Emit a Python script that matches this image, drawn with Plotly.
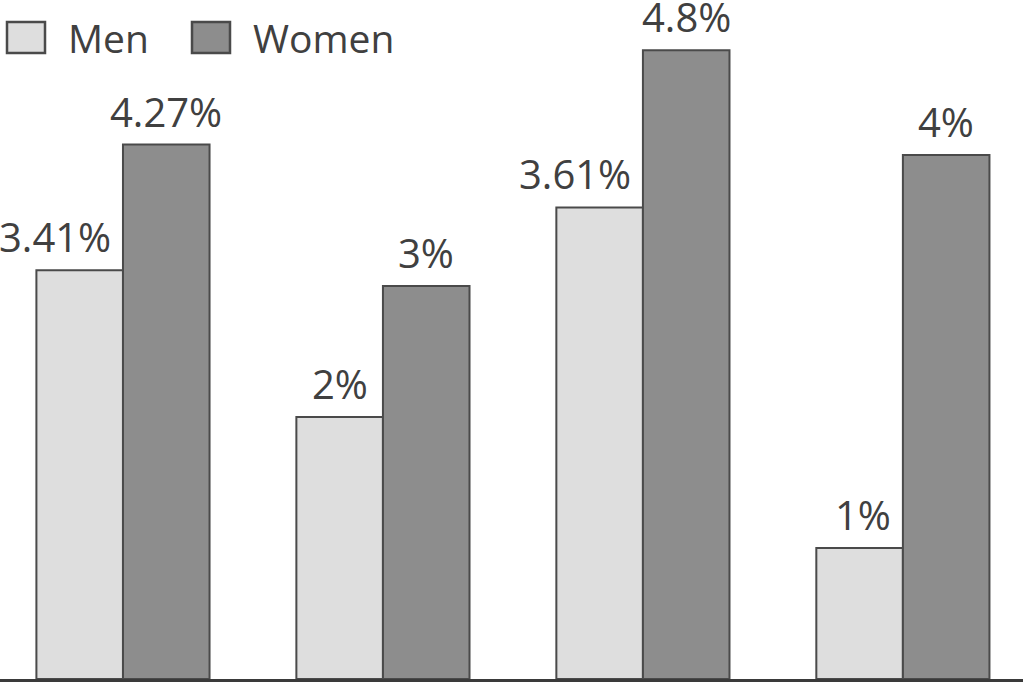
import plotly.graph_objects as go

# four groups, no category labels shown in the picture
groups = [0, 1, 2, 3]

# bar heights as drawn (percent); printed labels kept separately
men_values = [3.12, 2.0, 3.60, 1.0]
women_values = [4.08, 3.0, 4.80, 4.0]
men_labels = ["3.41%", "2%", "3.61%", "1%"]
women_labels = ["4.27%", "3%", "4.8%", "4%"]

FONT = "Open Sans"
TEXT = "#404040"
MEN_FILL = "#dedede"
WOMEN_FILL = "#8d8d8d"
EDGE = "#4a4a4a"

BAR_W = 0.333  # width of one bar in group units

fig = go.Figure()

fig.add_trace(
    go.Bar(
        x=groups,
        y=men_values,
        name="Men",
        offset=-BAR_W,
        width=BAR_W,
        marker=dict(color=MEN_FILL, line=dict(color=EDGE, width=2)),
        hoverinfo="skip",
    )
)
fig.add_trace(
    go.Bar(
        x=groups,
        y=women_values,
        name="Women",
        offset=0,
        width=BAR_W,
        marker=dict(color=WOMEN_FILL, line=dict(color=EDGE, width=2)),
        hoverinfo="skip",
    )
)

# value labels above the bars; long men labels sit a bit left as in the original
men_shift = [-25, 0, -25, 3]
annotations = []
for g, v, lab, sh in zip(groups, men_values, men_labels, men_shift):
    annotations.append(
        dict(x=g - BAR_W / 2, y=v, text=lab, showarrow=False, yanchor="bottom",
             xshift=sh, yshift=4, font=dict(family=FONT, size=40, color=TEXT))
    )
for g, v, lab in zip(groups, women_values, women_labels):
    annotations.append(
        dict(x=g + BAR_W / 2, y=v, text=lab, showarrow=False, yanchor="bottom",
             yshift=4, font=dict(family=FONT, size=40, color=TEXT))
    )

# hand-drawn legend: big swatches like the print version
legend_items = [("Men", MEN_FILL, 7, 66), ("Women", WOMEN_FILL, 192, 251)]
shapes = []
for name, fill, x0, tx in legend_items:
    shapes.append(
        dict(type="rect", xref="paper", yref="paper",
             x0=x0 / 1023, x1=(x0 + 38) / 1023, y0=1 - 53 / 679, y1=1 - 22 / 679,
             fillcolor=fill, line=dict(color=EDGE, width=2.5))
    )
    annotations.append(
        dict(xref="paper", yref="paper", x=tx / 1023, y=1 - 37 / 679, text=name,
             showarrow=False, xanchor="left", yanchor="middle",
             font=dict(family=FONT, size=39, color=TEXT))
    )

fig.update_layout(
    width=1023,
    height=684,
    margin=dict(l=0, r=0, t=0, b=5),
    paper_bgcolor="white",
    plot_bgcolor="white",
    showlegend=False,
    barmode="group",
    annotations=annotations,
    shapes=shapes,
    xaxis=dict(
        range=[-0.473, 3.462],
        showticklabels=False,
        ticks="",
        showgrid=False,
        zeroline=False,
        showline=True,
        linecolor="#3a3a3a",
        linewidth=3,
    ),
    yaxis=dict(
        range=[0, 5.183],
        visible=False,
        showgrid=False,
        zeroline=False,
    ),
)

# drop the default page margin so the figure sits flush in the window
fig.write_html(
    "out.html",
    config={"displayModeBar": False},
    post_script="document.body.style.margin='0';",
)
